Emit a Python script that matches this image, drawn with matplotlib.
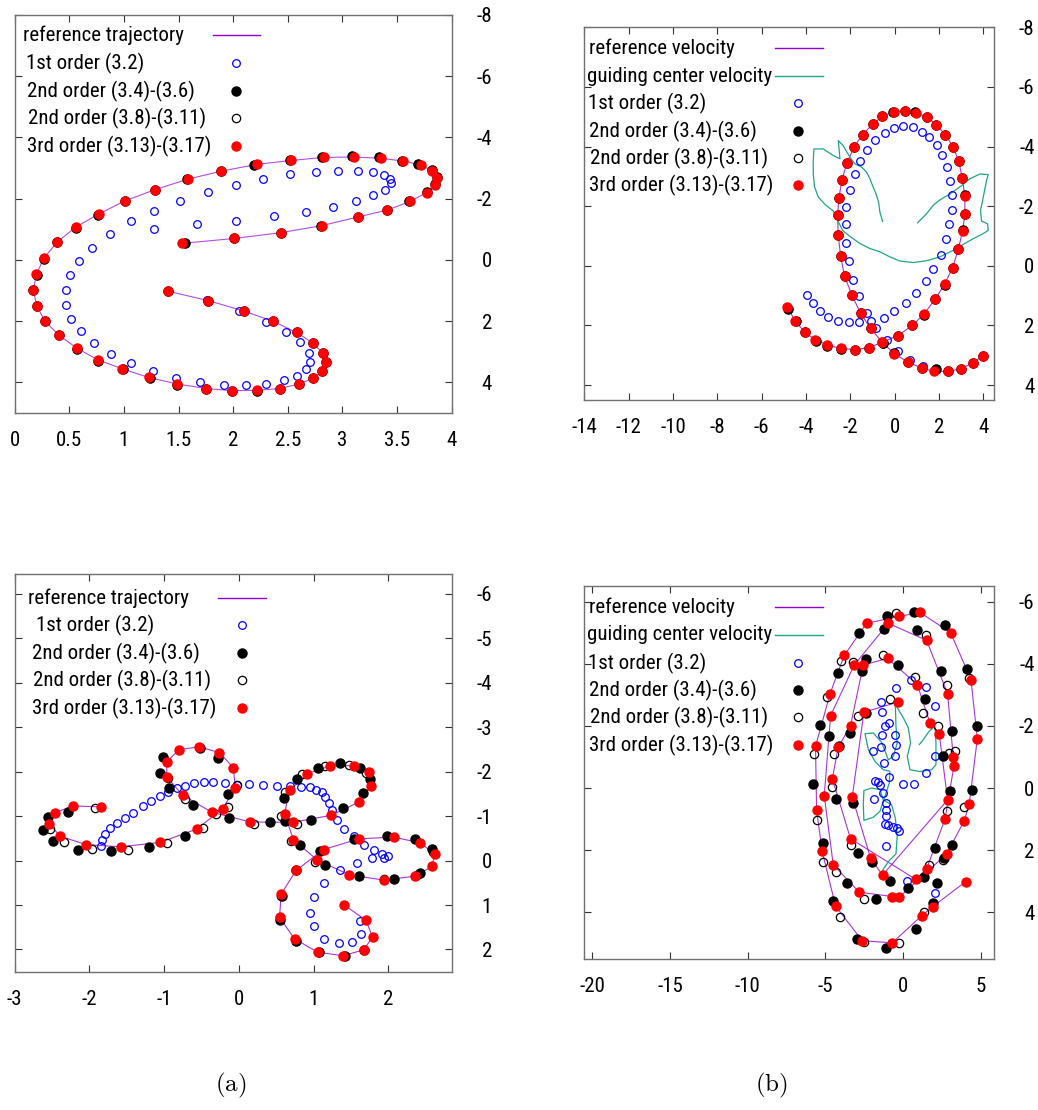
"""
Trajectory / velocity comparison: reference vs 1st/2nd/3rd order schemes.
"""
import matplotlib
matplotlib.use('Agg')
import matplotlib.pyplot as plt
from matplotlib import font_manager
from matplotlib.lines import Line2D
from matplotlib.ticker import FormatStrFormatter

_avail = {f.name for f in font_manager.fontManager.ttflist}
FONT, FS = 'Liberation Sans', 13.5
for cand in ['Liberation Sans Narrow', 'DejaVu Sans Condensed', 'Roboto Condensed', 'Open Sans Condensed']:
    if cand in _avail:
        FONT, FS = cand, 15
        break

plt.rcParams['font.family'] = [FONT, 'DejaVu Sans']
plt.rcParams['axes.unicode_minus'] = False
plt.rcParams['mathtext.fontset'] = 'cm'

# ---------------- (a) top : trajectory ----------------
at_red_x = [1.400, 1.773, 2.099, 2.368, 2.581, 2.728, 2.819, 2.847, 2.816, 2.728, 2.603, 2.429, 2.218, 1.992, 1.748,
            1.486, 1.227, 0.986, 0.760, 0.568, 0.403, 0.278, 0.201, 0.171, 0.198, 0.265, 0.391, 0.558, 0.769, 1.010,
            1.288, 1.587, 1.892, 2.215, 2.532, 2.831, 3.109, 3.350, 3.558, 3.716, 3.823, 3.869, 3.847, 3.771, 3.619,
            3.411, 3.140, 2.810, 2.435, 2.008, 1.529]
at_red_y = [1.02, 1.33, 1.67, 2.01, 2.37, 2.71, 3.04, 3.35, 3.64, 3.87, 4.05, 4.20, 4.26, 4.27, 4.20,
            4.05, 3.84, 3.56, 3.26, 2.88, 2.45, 2.01, 1.49, 0.98, 0.47, -0.05, -0.59, -1.07, -1.50, -1.93,
            -2.30, -2.64, -2.90, -3.12, -3.25, -3.35, -3.36, -3.32, -3.23, -3.10, -2.91, -2.68, -2.46, -2.20, -1.91,
            -1.63, -1.40, -1.12, -0.89, -0.70, -0.54]
at_blk_x = [1.400, 1.773, 2.099, 2.368, 2.581, 2.728, 2.825, 2.847, 2.816, 2.728, 2.603, 2.429, 2.218, 1.992, 1.748,
            1.486, 1.236, 0.989, 0.760, 0.568, 0.403, 0.278, 0.201, 0.171, 0.201, 0.265, 0.391, 0.564, 0.760, 1.010,
            1.281, 1.580, 1.886, 2.194, 2.520, 2.810, 3.085, 3.335, 3.548, 3.695, 3.817, 3.863, 3.847, 3.771, 3.613,
            3.411, 3.140, 2.801, 2.438, 2.008, 1.559]
at_blk_y = [1.02, 1.33, 1.67, 2.01, 2.37, 2.71, 3.04, 3.35, 3.64, 3.87, 4.05, 4.22, 4.27, 4.27, 4.22,
            4.08, 3.87, 3.56, 3.29, 2.91, 2.45, 2.01, 1.49, 0.98, 0.48, -0.03, -0.57, -1.05, -1.48, -1.93,
            -2.29, -2.63, -2.90, -3.11, -3.25, -3.36, -3.39, -3.36, -3.23, -3.12, -2.94, -2.70, -2.48, -2.21, -1.91,
            -1.63, -1.40, -1.11, -0.89, -0.70, -0.54]
at_blue_x = [1.757, 2.053, 2.297, 2.484, 2.615, 2.691, 2.703, 2.667, 2.581, 2.462, 2.304, 2.114, 1.916, 1.696, 1.480,
             1.266, 1.062, 0.879, 0.729, 0.604, 0.513, 0.470, 0.470, 0.506, 0.589, 0.711, 0.870, 1.062, 1.278, 1.516,
             1.767, 2.023, 2.273, 2.523, 2.755, 2.963, 3.143, 3.283, 3.384, 3.432, 3.442, 3.390, 3.280, 3.127, 2.914,
             2.667, 2.371, 2.029, 1.666, 1.272]
at_blue_y = [1.31, 1.67, 2.04, 2.36, 2.69, 3.04, 3.34, 3.56, 3.78, 3.92, 4.05, 4.09, 4.09, 4.00, 3.86,
             3.64, 3.38, 3.06, 2.72, 2.33, 1.92, 1.46, 0.98, 0.50, 0.05, -0.40, -0.85, -1.26, -1.60, -1.94,
             -2.23, -2.46, -2.64, -2.80, -2.87, -2.90, -2.90, -2.87, -2.76, -2.65, -2.51, -2.30, -2.11, -1.94, -1.74,
             -1.56, -1.42, -1.26, -1.16, -1.02]

# ---------------- (b) top : velocity ----------------
bt_red_x = [-4.842, -4.496, -4.045, -3.579, -3.038, -2.406, -1.774, -1.143, -0.556, 0.150, 0.797, 1.338, 1.835,
            2.256, 2.617, 2.872, 3.068, 3.173, 3.173, 3.053, 2.902, 2.647, 2.286, 1.880, 1.444, 0.977, 0.466,
            -0.030, -0.556, -0.992, -1.444, -1.820, -2.150, -2.376, -2.511, -2.571, -2.541, -2.436, -2.256, -1.925,
            -1.534, -1.083, -0.556, -0.015, 0.617, 1.218, 1.789, 2.421, 2.992, 3.519, 3.985]
bt_red_y = [1.37, 1.84, 2.23, 2.48, 2.66, 2.77, 2.81, 2.74, 2.56, 2.34, 2.00, 1.61, 1.11,
            0.62, 0.06, -0.55, -1.16, -1.74, -2.33, -2.94, -3.50, -3.98, -4.40, -4.74, -5.00, -5.13, -5.20,
            -5.17, -5.01, -4.75, -4.40, -4.00, -3.45, -2.88, -2.28, -1.69, -1.02, -0.33, 0.35, 0.98,
            1.59, 2.10, 2.56, 2.95, 3.23, 3.43, 3.54, 3.54, 3.45, 3.26, 3.02]
bt_blk_x = [-4.812, -4.466, -4.030, -3.549, -3.038, -2.406, -1.774, -1.143, -0.511, 0.150, 0.797, 1.338, 1.835,
            2.256, 2.617, 2.872, 3.068, 3.173, 3.173, 3.053, 2.902, 2.647, 2.286, 1.880, 1.444, 0.932, 0.466,
            -0.060, -0.556, -0.992, -1.444, -1.820, -2.150, -2.376, -2.511, -2.571, -2.541, -2.436, -2.256, -1.925,
            -1.534, -1.083, -0.511, -0.015, 0.617, 1.218, 1.850, 2.421, 2.992, 3.519, 3.985]
bt_blk_y = [1.46, 1.84, 2.23, 2.51, 2.69, 2.80, 2.81, 2.76, 2.59, 2.34, 2.00, 1.64, 1.11,
            0.64, 0.06, -0.55, -1.19, -1.74, -2.36, -2.94, -3.50, -3.98, -4.40, -4.74, -5.00, -5.16, -5.20,
            -5.17, -5.01, -4.75, -4.40, -4.00, -3.45, -2.88, -2.28, -1.69, -1.02, -0.33, 0.35, 0.98,
            1.59, 2.10, 2.59, 2.92, 3.23, 3.43, 3.46, 3.54, 3.45, 3.26, 3.02]
bt_blue_x = [-3.970, -3.699, -3.368, -2.992, -2.541, -2.060, -1.594, -1.068, -0.496, -0.015, 0.496, 0.947, 1.398,
             1.744, 2.075, 2.301, 2.451, 2.571, 2.571, 2.496, 2.376, 2.150, 1.895, 1.549, 1.218, 0.812, 0.391,
             -0.030, -0.436, -0.872, -1.233, -1.549, -1.805, -2.030, -2.195, -2.211, -2.195, -2.060, -1.895, -1.624,
             -1.233, -0.842, -0.361, 0.135, 0.692, 1.293, 1.850]
bt_blue_y = [0.98, 1.24, 1.51, 1.70, 1.84, 1.90, 1.90, 1.84, 1.74, 1.51, 1.24, 0.90, 0.51,
             0.09, -0.36, -0.90, -1.39, -1.88, -2.36, -2.84, -3.31, -3.72, -4.06, -4.31, -4.50, -4.64, -4.68,
             -4.61, -4.44, -4.22, -3.90, -3.53, -3.08, -2.53, -1.97, -1.41, -0.77, -0.16, 0.46, 1.01,
             1.59, 2.09, 2.48, 2.87, 3.15, 3.35, 3.46]
bt_gc_x = [-0.541, -0.662, -0.722, -0.842, -0.992, -1.143, -1.263, -1.489, -1.789, -2.015, -2.316, -2.541, -2.496,
           -2.466, -2.767, -3.218, -3.639, -3.669, -3.669, -3.609, -3.444, -3.143, -2.767, -2.571, -2.346, -1.985,
           -1.564, -1.113, -0.662, -0.211, 0.241, 0.842, 1.444, 2.045, 2.647, 3.098, 3.549, 4.000, 4.226, 4.195,
           3.925, 3.880, 3.970, 4.060, 4.150, 4.226, 3.850, 3.398, 3.023, 2.722, 2.466, 2.195, 1.970, 1.744,
           1.444, 1.038]
bt_gc_y = [-1.49, -1.80, -2.14, -2.42, -2.69, -2.97, -3.14, -3.31, -3.42, -3.64, -4.03, -4.20, -3.86,
           -3.59, -3.70, -3.92, -3.92, -3.53, -3.08, -2.64, -2.31, -2.06, -1.84, -1.53, -1.19, -0.97,
           -0.75, -0.58, -0.47, -0.30, -0.16, -0.11, -0.17, -0.30, -0.52, -0.72, -0.91, -1.08, -1.19, -1.41,
           -1.50, -1.86, -2.19, -2.53, -2.86, -3.06, -3.08, -2.92, -2.69, -2.53, -2.39, -2.28, -2.17, -2.03,
           -1.75, -1.44]

# ---------------- (a) bottom : trajectory ----------------
ab_red_x = [-1.848, -2.214, -2.460, -2.536, -2.393, -2.045, -1.580, -1.054, -0.563, -0.214, -0.049, -0.071, -0.259,
            -0.531, -0.795, -0.964, -0.964, -0.750, -0.362, 0.152, 0.723, 1.237, 1.612, 1.772, 1.737, 1.536, 1.223,
            0.911, 0.679, 0.612, 0.732, 1.045, 1.478, 1.946, 2.353, 2.589, 2.621, 2.429, 2.071, 1.612, 1.134, 0.768,
            0.567, 0.545, 0.746, 1.054, 1.393, 1.670, 1.790, 1.701, 1.402]
ab_red_y = [-1.21, -1.23, -1.08, -0.83, -0.55, -0.36, -0.31, -0.41, -0.71, -1.17, -1.64, -2.09, -2.43,
            -2.56, -2.50, -2.23, -1.88, -1.47, -1.09, -0.87, -0.86, -1.02, -1.32, -1.68, -1.99, -2.14, -2.13,
            -1.95, -1.58, -1.05, -0.47, -0.02, 0.32, 0.44, 0.35, 0.13, -0.15, -0.40, -0.53, -0.49, -0.25, 0.22,
            0.75, 1.28, 1.76, 2.06, 2.14, 2.01, 1.72, 1.34, 0.99]
ab_blk_x = [-2.290, -2.549, -2.625, -2.482, -2.156, -1.714, -1.201, -0.719, -0.129, -0.138, -0.272, -0.518, -1.009,
            -1.054, -0.929, -0.607, 0.420, 0.964, 1.393, 1.656, 1.750, 1.616, 1.357, 1.054, 0.777, 0.607, 0.612,
            0.821, 1.156, 1.612, 2.071, 2.429, 2.589, 2.362, 1.982, 1.536, 1.089, 0.768, 0.576, 0.554, 0.768, 1.080,
            1.424, 1.670]
ab_blk_y = [-1.10, -0.98, -0.68, -0.44, -0.25, -0.21, -0.31, -0.56, -0.96, -1.49, -2.30, -2.54, -2.33,
            -1.98, -1.64, -1.25, -0.86, -0.92, -1.19, -1.53, -1.84, -2.09, -2.20, -2.09, -1.84, -1.40, -0.89,
            -0.36, 0.09, 0.35, 0.41, 0.29, -0.26, -0.49, -0.56, -0.49, -0.21, 0.22, 0.80, 1.33, 1.82, 2.06,
            2.14, 2.01]
ab_open_x = [-1.924, -2.527, -2.335, -1.969, -1.487, -0.964, -0.482, -0.147, -0.018, -0.719, -0.304, -0.942, 0.205,
             0.777, 0.612, 0.567, 0.701, 0.844, 1.156, 1.469, 1.705, 1.022, 0.563, 0.545, 0.760, 1.070, 1.410,
             2.380, 2.600, 1.950]
ab_open_y = [-1.19, -0.71, -0.42, -0.26, -0.25, -0.40, -0.74, -1.20, -1.71, -1.39, -1.06, -1.85, -0.83,
             -0.83, -1.54, -1.00, -0.44, -1.96, -2.14, -2.15, -1.98, 0.04, 0.79, 1.30, 1.80, 2.06, 2.14,
             0.33, -0.20, 0.42]
ab_blue_x = [-1.848, -1.835, -1.786, -1.723, -1.625, -1.522, -1.411, -1.286, -1.174, -1.054, -0.942, -0.830, -0.714,
             -0.594, -0.464, -0.339, -0.183, -0.018, 0.143, 0.321, 0.518, 0.688, 0.830, 0.955, 1.036, 1.112, 1.156,
             1.201, 1.246, 1.313, 1.411, 1.545, 1.670, 1.804, 1.915, 1.996, 1.938, 1.781, 1.580, 1.357, 1.147,
             1.000, 0.955, 1.000, 1.134, 1.344, 1.513, 1.634, 1.616]
ab_blue_y = [-0.34, -0.47, -0.61, -0.74, -0.85, -0.96, -1.08, -1.23, -1.34, -1.45, -1.55, -1.64, -1.69,
             -1.74, -1.77, -1.77, -1.74, -1.70, -1.73, -1.71, -1.68, -1.69, -1.66, -1.65, -1.60, -1.55, -1.44,
             -1.30, -1.15, -0.92, -0.72, -0.56, -0.36, -0.25, -0.14, -0.11, -0.06, -0.06, 0.05, 0.22, 0.50,
             0.83, 1.18, 1.48, 1.76, 1.86, 1.83, 1.65, 1.35]

# ---------------- (b) bottom : velocity ----------------
bb_red_x = [4.01, 1.89, 1.18, -0.71, -2.64, -4.35, -5.21, -5.57, -5.64, -4.71, -3.79, -2.36, -0.28, 1.07, 3.04,
            4.35, 4.76, 4.24, 3.92, 2.79, -0.28, -0.71, -2.83, -4.50, -5.08, -4.67, -3.15, -0.96, 1.50, 2.85,
            3.21, 3.26, 2.68, 1.50, 0.81, -3.39, -4.56, -4.18, -3.39, -2.57, -1.01, 0.90, 1.71, 2.31, 2.85,
            -1.33, -2.10, -3.28, -2.53, -0.32]
bb_red_y = [3.01, 3.82, 4.11, 4.98, 4.91, 3.80, 2.04, 0.72, -1.34, -3.03, -4.27, -5.30, -5.52, -5.65, -5.00,
            -3.49, -1.59, 0.51, 1.05, 2.12, 3.52, 3.49, 3.35, 2.47, 0.24, -2.33, -3.96, -5.30, -4.75, -3.03,
            -1.00, -0.72, 1.00, 2.60, 2.94, 1.63, -0.30, -1.31, -2.01, -3.96, -4.17, -3.33, -2.10, -1.75, 0.38,
            2.80, 2.26, 0.29, -2.44, -2.77]
bb_blk_x = [-1.03, 0.71, 2.68, 0.86, -1.22, -2.83, -2.40, -2.68, -4.18, -0.32, 4.11, 2.40, 1.39, -2.42, -3.43,
            -5.36, -4.76, 3.15, 4.76, 2.57, -4.11, -5.79, -4.33, -3.21, 3.00, 4.44, -5.14, -2.89, -2.04, 2.04,
            2.61, 3.15, -3.64, -1.76, -0.86, 0.32, 1.33, 2.14, -4.50, -3.00, -1.11, 0.81, 1.93]
bb_blk_y = [-5.54, -5.67, -5.24, -5.08, -5.13, -5.00, -4.16, -3.76, -3.69, -3.96, -3.84, -3.78, -2.87, -2.42, -1.77,
            -2.04, -1.69, -1.83, -2.01, -1.04, -1.34, -0.13, 0.35, 0.48, 0.11, 0.05, 1.77, 2.10, 2.37, 1.94,
            2.26, 1.83, 3.06, 3.57, 2.99, 3.20, 2.85, 3.06, 3.63, 4.87, 5.14, 4.52, 3.71]
bb_open_x = [-0.47, 1.46, -4.01, -3.26, -1.33, 0.75, 2.83, -4.93, -0.86, -2.94, 1.29, 2.25, -5.74, -4.44, 2.94,
             3.32, 4.25, -4.56, -5.53, 3.92, 2.79, -3.36, -5.19, -4.35, -2.53, -2.53, -0.26, -4.07, 1.33, 1.67,
             2.57]
bb_open_y = [-5.62, -4.91, -4.09, -4.06, -4.27, -3.58, -3.30, -2.92, -2.85, -2.33, -2.42, -2.01, -1.08, -1.11, -1.13,
             -1.18, -3.55, -0.02, 1.02, 0.61, 0.75, 1.83, 2.39, 2.69, 3.58, 4.95, 5.00, 4.14, 3.98, 2.49,
             2.31]
bb_blue_x = [0.49, 1.44, -0.47, 2.04, -1.46, -0.90, -1.18, -1.39, -0.54, -0.47, -1.46, -1.97, -1.22, -0.54, 2.04,
             1.46, -1.82, -1.61, -1.50, -0.90, 0.00, 0.71, -1.89, -1.29, -1.11, -1.11, -1.11, -1.18, -0.96, -0.64,
             -0.39, -0.26, -1.11, 0.26, 2.04, -1.35]
bb_blue_y = [-3.49, -3.26, -3.23, -2.63, -2.76, -2.08, -1.99, -1.72, -1.72, -1.38, -1.32, -1.18, -0.81, -1.02, -1.02,
             -0.48, -0.24, -0.19, -0.11, -0.34, -0.13, -0.13, 0.34, 0.16, 0.48, 0.70, 0.91, 1.16, 1.20, 1.24,
             1.27, 1.38, 1.85, 2.99, 3.39, -2.44]
bb_gc_x = [-1.39, -0.90, -0.47, -0.39, -0.51, -0.75, -1.29, -1.50, -2.04, -2.53, -2.57, -2.53, -1.93, -1.50,
           -1.18, -0.90, -0.86, -1.29, -1.82, -2.25, -2.46, -1.93, -1.39, -0.96, -0.64, -0.39, -0.47, -0.51,
           -0.32, 0.00, 0.32, 0.47, 0.26, 0.43, 1.07, 1.82, 2.10, 2.10, 2.04, 1.67, 1.29, 1.03]
bb_gc_y = [2.69, 2.33, 2.12, 1.56, 0.97, 0.54, 0.38, 0.05, 0.00, 0.08, 0.54, 1.04, 0.94, 0.75,
           0.27, -0.16, -0.54, -0.59, -0.86, -1.24, -1.75, -1.77, -1.47, -0.91, -1.02, -1.45, -1.99, -2.69,
           -2.53, -2.26, -1.94, -1.45, -1.02, -0.59, -0.53, -0.59, -0.75, -1.45, -1.99, -1.83, -1.56, -1.40]

LABELS_TRAJ = ['reference trajectory', '1st order (3.2)', '2nd order (3.4)-(3.6)',
               '2nd order (3.8)-(3.11)', '3rd order (3.13)-(3.17)']
LABELS_VEL = ['reference velocity', 'guiding center velocity', '1st order (3.2)', '2nd order (3.4)-(3.6)',
              '2nd order (3.8)-(3.11)', '3rd order (3.13)-(3.17)']

W, H = 1038, 1110
PURPLE = '#9400d3'
TEAL = '#1fa585'

fig = plt.figure(figsize=(W / 100, H / 100), dpi=100)


def px_axes(l, t, r, b):
    return fig.add_axes([l / W, 1 - b / H, (r - l) / W, (b - t) / H])


def style(ax, xlim, ylim, xticks, yticks, xfmt='%g'):
    ax.set_xlim(*xlim)
    ax.set_ylim(*ylim)
    ax.set_xticks(xticks)
    ax.set_yticks(yticks)
    ax.xaxis.set_major_formatter(FormatStrFormatter(xfmt))
    ax.tick_params(axis='both', direction='in', length=5, width=0.8, color='#333333',
                   top=True, bottom=True, left=True, right=True, labelsize=FS)
    ax.tick_params(axis='x', pad=13)
    ax.tick_params(axis='y', labelleft=False, labelright=True, pad=29)
    for lbl in ax.get_yticklabels():
        lbl.set_horizontalalignment('right')
    for sp in ax.spines.values():
        sp.set_color('#707070')
        sp.set_linewidth(1.0)


def draw_points(ax, bx, by, ox, oy, rx, ry, ux, uy):
    ax.plot(ux, uy, 'o', ms=5.5, mfc='none', mec='#0000ff', mew=0.9, zorder=3)
    ax.plot(bx, by, 'o', ms=6.5, color='black', zorder=4)
    ax.plot(ox, oy, 'o', ms=6, mfc='none', mec='black', mew=0.9, zorder=5)
    ax.plot(rx, ry, 'o', ms=6.5, color='#ff0000', zorder=6)


def legend(labels, kinds, tx, ty, lx0, lx1, mx):
    for lab, kind, x, y in zip(labels, kinds, tx, ty):
        fig.text(x / W, 1 - y / H, lab, fontsize=FS, ha='left', va='center')
        yy = 1 - y / H
        if kind in ('purple', 'teal'):
            c = PURPLE if kind == 'purple' else TEAL
            fig.add_artist(Line2D([lx0 / W, lx1 / W], [yy, yy], color=c, lw=1.0))
        elif kind == 'blue':
            fig.add_artist(Line2D([mx / W], [yy], marker='o', ms=5.5, mfc='none', mec='#0000ff', mew=0.9))
        elif kind == 'black':
            fig.add_artist(Line2D([mx / W], [yy], marker='o', ms=6.5, color='black'))
        elif kind == 'open':
            fig.add_artist(Line2D([mx / W], [yy], marker='o', ms=6, mfc='none', mec='black', mew=0.9))
        else:
            fig.add_artist(Line2D([mx / W], [yy], marker='o', ms=6.5, color='#ff0000'))


# (a) top
ax = px_axes(14.7, 15, 451.7, 413)
ax.plot(at_red_x, at_red_y, color=PURPLE, lw=0.8, alpha=0.7, zorder=2)
draw_points(ax, at_blk_x, at_blk_y, at_blk_x, at_blk_y, at_red_x, at_red_y, at_blue_x, at_blue_y)
style(ax, (0, 4), (5, -8), [0, 0.5, 1, 1.5, 2, 2.5, 3, 3.5, 4], [-8, -6, -4, -2, 0, 2, 4])
legend(LABELS_TRAJ, ['purple', 'blue', 'black', 'open', 'red'],
       [23, 26, 27, 28, 27], [35, 63, 91, 118, 146], 213, 260, 236)

# (b) top
ax = px_axes(584.3, 27.3, 994.3, 400)
ax.plot(bt_red_x, bt_red_y, color=PURPLE, lw=0.8, alpha=0.8, zorder=2)
ax.plot(bt_gc_x, bt_gc_y, color=TEAL, lw=0.9, zorder=2)
draw_points(ax, bt_blk_x, bt_blk_y, bt_blk_x, bt_blk_y, bt_red_x, bt_red_y, bt_blue_x, bt_blue_y)
style(ax, (-14, 4.5), (4.5, -8), list(range(-14, 5, 2)), [-8, -6, -4, -2, 0, 2, 4])
legend(LABELS_VEL, ['purple', 'teal', 'blue', 'black', 'open', 'red'],
       [589, 587, 588, 589, 590, 589], [48, 76, 103, 131, 158, 185], 775, 823, 798)

# (a) bottom
ax = px_axes(14.7, 574, 451.7, 971.7)
ax.plot(ab_red_x, ab_red_y, color=PURPLE, lw=0.8, alpha=0.8, zorder=2)
draw_points(ax, ab_blk_x, ab_blk_y, ab_open_x, ab_open_y, ab_red_x, ab_red_y, ab_blue_x, ab_blue_y)
style(ax, (-3, 2.85), (2.5, -6.45), [-3, -2, -1, 0, 1, 2], [-6, -5, -4, -3, -2, -1, 0, 1, 2])
legend(LABELS_TRAJ, ['purple', 'blue', 'black', 'open', 'red'],
       [28, 36, 32, 33, 32], [598, 625, 653, 680, 708], 218, 266, 242)

# (b) bottom
ax = px_axes(584.3, 586, 994.3, 959)
ax.plot(bb_red_x, bb_red_y, color=PURPLE, lw=0.8, alpha=0.8, zorder=2)
ax.plot(bb_gc_x, bb_gc_y, color=TEAL, lw=0.9, zorder=2)
draw_points(ax, bb_blk_x, bb_blk_y, bb_open_x, bb_open_y, bb_red_x, bb_red_y, bb_blue_x, bb_blue_y)
style(ax, (-20.5, 5.85), (5.5, -6.5), [-20, -15, -10, -5, 0, 5], [-6, -4, -2, 0, 2, 4])
legend(LABELS_VEL, ['purple', 'teal', 'blue', 'black', 'open', 'red'],
       [589, 587, 588, 589, 590, 589], [607, 635, 663, 690, 717, 745], 775, 823, 798)

fig.text(231 / W, 1 - 1085 / H, r'$\mathrm{(a)}$', fontsize=18, ha='center', va='center')
fig.text(771 / W, 1 - 1085 / H, r'$\mathrm{(b)}$', fontsize=18, ha='center', va='center')

fig.savefig('out.png', dpi=100)
